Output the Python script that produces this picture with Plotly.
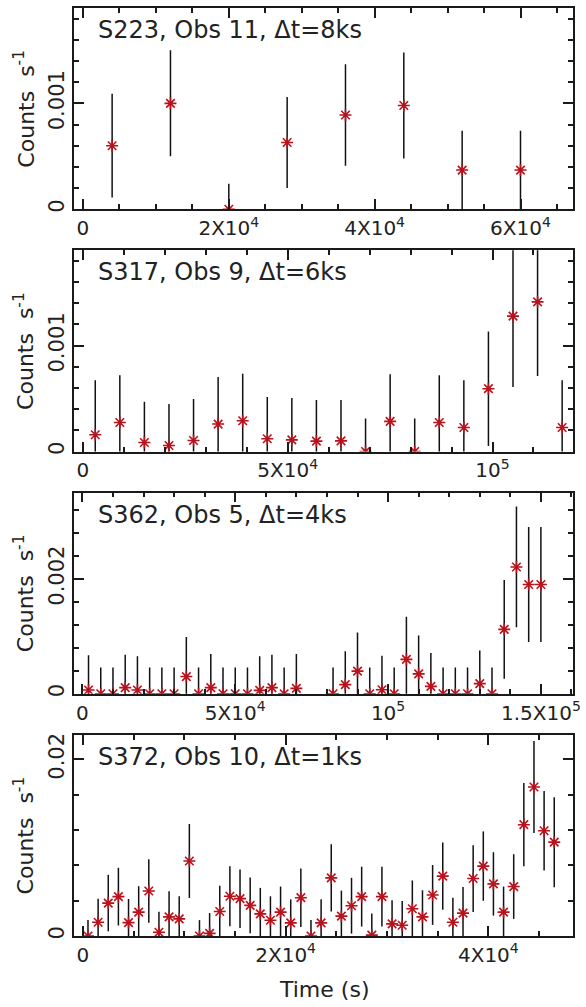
import plotly.graph_objects as go
from plotly.subplots import make_subplots

# ---------------- data ----------------
labels = ["S223, Obs 11, \u0394t=8ks", "S317, Obs 9, \u0394t=6ks",
          "S362, Obs 5, \u0394t=4ks", "S372, Obs 10, \u0394t=1ks"]

t1 = [4000, 12000, 20000, 28000, 36000, 44000, 52000, 60000]
r1 = [0.00060, 0.00100, 0.0, 0.00063, 0.00089, 0.00098, 0.00037, 0.00037]
e1 = [0.00049, 0.00050, 0.00024, 0.00043, 0.00048, 0.00050, 0.00037, 0.00037]

t2 = [3000, 9000, 15000, 21000, 27000, 33000, 39000, 45000, 51000, 57000,
      63000, 69000, 75000, 81000, 87000, 93000, 99000, 105000, 111000, 117000]
r2 = [0.000158, 0.000274, 0.000085, 0.000057, 0.000104, 0.000259, 0.000290,
      0.000120, 0.000110, 0.000098, 0.000100, 0.0, 0.000284, 0.0, 0.000274,
      0.000227, 0.000593, 0.001278, 0.001413, 0.000227]
e2 = [0.000514, 0.000445, 0.000385, 0.000391, 0.000391, 0.000444, 0.000445,
      0.000394, 0.000395, 0.000388, 0.000386, 0.000312, 0.000445, 0.000312,
      0.000445, 0.000445, 0.000540, 0.000670, 0.000700, 0.000445]

t3 = [2000, 6000, 10000, 14000, 18000, 22000, 26000, 30000, 34000, 38000,
      42000, 46000, 50000, 54000, 58000, 62000, 66000, 70000,
      82000, 86000, 90000, 94000, 98000, 102000, 106000, 110000, 114000,
      118000, 122000, 126000, 130000, 134000, 138000, 142000, 146000, 150000]
r3 = [0.000065, 0.0, 0.0, 0.000106, 0.000065, 0.0, 0.0, 0.0, 0.000299, 0.0,
      0.000106, 0.0, 0.0, 0.0, 0.000059, 0.000106, 0.0, 0.000094,
      0.0, 0.000158, 0.000393, 0.0, 0.000070, 0.0, 0.000598, 0.000346,
      0.000129, 0.0, 0.0, 0.0, 0.000176, 0.0, 0.001120, 0.002205, 0.001900,
      0.001900]
e3 = [0.000604, 0.000457, 0.000457, 0.000574, 0.000586, 0.000457, 0.000457,
      0.000457, 0.000686, 0.000457, 0.000586, 0.000457, 0.000457, 0.000457,
      0.000592, 0.000574, 0.000457, 0.000598,
      0.000457, 0.000581, 0.000674, 0.000457, 0.000593, 0.000457, 0.000739,
      0.000669, 0.000581, 0.000457, 0.000457, 0.000457, 0.000575, 0.000457,
      0.000860, 0.001050, 0.001000, 0.001000]

t4 = [500, 1500, 2500, 3500, 4500, 5500, 6500, 7500, 8500, 9500, 10500,
      11500, 12500, 13500, 14500, 15500, 16500, 17500, 18500, 19500, 20500,
      21500, 22500, 23500, 24500, 25500, 26500, 27500, 28500, 29500, 30500,
      31500, 32500, 33500, 34500, 35500, 36500, 37500, 38500, 39500, 40500,
      41500, 42500, 43500, 44500, 45500, 46500]
r4 = [0.0, 0.00156, 0.00373, 0.00446, 0.00152, 0.00270, 0.00510, 0.00042,
      0.00217, 0.00194, 0.00850, 0.0, 0.00030, 0.00278, 0.00450, 0.00423,
      0.00347, 0.00251, 0.00179, 0.00270, 0.00149, 0.00434, 0.0, 0.00149,
      0.00659, 0.00225, 0.00343, 0.00446, 0.00010, 0.00446, 0.00137, 0.00122,
      0.00309, 0.00217, 0.00465, 0.00678, 0.00156, 0.00259, 0.00651, 0.00792,
      0.00590, 0.00270, 0.00560, 0.01261, 0.01688, 0.01192, 0.01063]
hi4 = [0.00180, 0.00423, 0.00693, 0.00773, 0.00419, 0.00564, 0.00869, 0.00274,
       0.00507, 0.00450, 0.01269, 0.00180, 0.00260, 0.00570, 0.00789, 0.00754,
       0.00663, 0.00545, 0.00450, 0.00560, 0.00415, 0.00766, 0.00180, 0.00415,
       0.01040, 0.00514, 0.00659, 0.00785, 0.00255, 0.00785, 0.00404, 0.00396,
       0.00629, 0.00518, 0.00804, 0.01060, 0.00434, 0.00556, 0.01029, 0.01185,
       0.00949, 0.00560, 0.00926, 0.01733, 0.02210, 0.01642, 0.01573]
e4 = [h - r for h, r in zip(hi4, r4)]

x_ranges = [[-1230, 67200], [-2190, 119650], [-2750, 160500], [-880, 48350]]
y_ranges = [[0, 0.0019], [0, 0.0019], [0, 0.0035], [0, 0.0228]]
x_major = [20000, 50000, 50000, 20000]
x_minor = [5000, 10000, 10000, 5000]
x_alias = {"20000": "2X10<sup>4</sup>", "40000": "4X10<sup>4</sup>",
           "60000": "6X10<sup>4</sup>", "50000": "5X10<sup>4</sup>",
           "100000": "10<sup>5</sup>", "150000": "1.5X10<sup>5</sup>"}
y_major = [0.001, 0.001, 0.002, 0.02]
y_minor = [0.0002, 0.0002, 0.0004, 0.004]

# ---------------- figure ----------------
W, H = 586, 1007
ML, MR, MT, MB = 74, 13, 8, 71
plot_h = H - MT - MB
plot_w = W - ML - MR
gap = 41

fig = make_subplots(rows=4, cols=1, vertical_spacing=gap / plot_h)

FONT = "DejaVu Sans"
TXT = "#222222"
RED = "#b8121c"
AX = "#1a1a1a"

series = [(t1, r1, e1), (t2, r2, e2), (t3, r3, e3), (t4, r4, e4)]
for i, (t, r, e) in enumerate(series):
    fig.add_trace(go.Scatter(
        x=t, y=r, mode="markers",
        marker=dict(symbol="asterisk-open", size=10,
                    line=dict(color=RED, width=1.6), color=RED),
        error_y=dict(type="data", array=e, symmetric=True, color="#111111",
                     thickness=1.5, width=0),
        hoverinfo="skip", showlegend=False), row=i + 1, col=1)

    fig.update_xaxes(range=x_ranges[i], tickmode="linear", tick0=0,
                     dtick=x_major[i], tickformat="d", labelalias=x_alias,
                     ticks="inside", ticklen=10, tickwidth=2, tickcolor=AX,
                     minor=dict(ticks="inside", ticklen=5, tickwidth=2,
                                tickcolor=AX, dtick=x_minor[i], tick0=0,
                                showgrid=False),
                     showline=True, linecolor=AX, linewidth=1.6,
                     mirror="ticks", showgrid=False, zeroline=False,
                     tickfont=dict(family=FONT, size=20, color=TXT),
                     row=i + 1, col=1)
    fig.update_yaxes(range=y_ranges[i], tickmode="linear", tick0=0,
                     dtick=y_major[i], tickangle=-90,
                     ticks="inside", ticklen=10, tickwidth=2, tickcolor=AX,
                     minor=dict(ticks="inside", ticklen=5, tickwidth=2,
                                tickcolor=AX, dtick=y_minor[i], tick0=0,
                                showgrid=False),
                     showline=True, linecolor=AX, linewidth=1.6,
                     mirror="ticks", showgrid=False, zeroline=False,
                     tickfont=dict(family=FONT, size=21, color=TXT),
                     row=i + 1, col=1)

for i in range(4):
    dom = fig.layout[f"yaxis{'' if i == 0 else i + 1}"].domain
    # panel label
    fig.add_annotation(text=labels[i], xref="paper", yref="paper",
                       x=22 / plot_w, y=dom[1] - 22 / plot_h,
                       xanchor="left", yanchor="middle", showarrow=False,
                       font=dict(family=FONT, size=24, color=TXT))
    # y title
    fig.add_annotation(text="Counts\u00a0 s<sup>-1</sup>", xref="paper",
                       yref="paper",
                       x=(24 - ML) / plot_w, y=(dom[0] + dom[1]) / 2,
                       xanchor="center", yanchor="middle", textangle=-90,
                       showarrow=False,
                       font=dict(family=FONT, size=22, color=TXT))

fig.add_annotation(text="Time (s)", xref="paper", yref="paper",
                   x=0.5, y=-(990 - (H - MB)) / plot_h,
                   xanchor="center", yanchor="middle", showarrow=False,
                   font=dict(family=FONT, size=22, color=TXT))

fig.update_layout(width=W, height=H,
                  margin=dict(l=ML, r=MR, t=MT, b=MB, autoexpand=False),
                  paper_bgcolor="white", plot_bgcolor="white",
                  hovermode=False)

fig.write_html("out.html", config={"displayModeBar": False},
               post_script="document.body.style.margin='0';"
                           "document.body.style.padding='0';")
